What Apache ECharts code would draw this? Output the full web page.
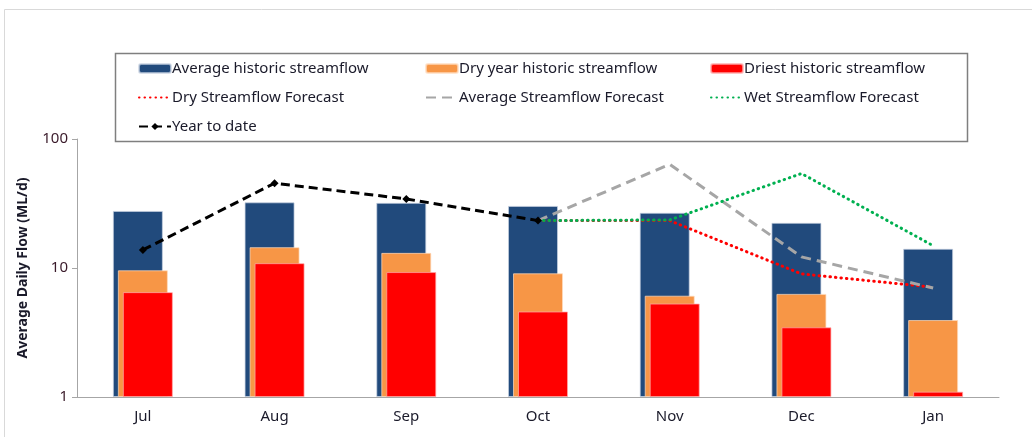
<!DOCTYPE html>
<html>
<head>
<meta charset="utf-8">
<script src="https://cdn.jsdelivr.net/npm/echarts@6/dist/echarts.min.js"></script>
<style>
  html, body { margin: 0; padding: 0; background: #fff; }
  #chart { width: 1032px; height: 437px; }
</style>
</head>
<body>
<div id="chart"></div>
<script>
const months = ['Jul', 'Aug', 'Sep', 'Oct', 'Nov', 'Dec', 'Jan']

// historic streamflow (ML/d)
const avgHistoric = [27.7, 32.3, 32, 30.3, 26.8, 22.4, 14.1]
const dryYearHistoric = [9.6, 14.5, 13.1, 9.1, 6.1, 6.3, 3.95]
const driestHistoric = [6.5, 10.9, 9.3, 4.6, 5.3, 3.47, 1.1]

// forecasts and year to date
const dryForecast = [null, null, null, 23.3, 23.3, 9.0, 7.1]
const avgForecast = [null, null, null, 23.3, 63.7, 12.2, 7.0]
const wetForecast = [null, null, null, 23.3, 23.6, 54, 14.9]
const yearToDate = [13.8, 45.4, 34.3, 23.3, null, null, null]

const font = '"Noto Sans", sans-serif'
const textColor = '#1a1a2a'

const chart = echarts.init(document.getElementById('chart'))

const noSymbol = { opacity: 0 }

const legendBase = {
  orient: 'vertical',
  top: 61,
  padding: 0,
  itemWidth: 32,
  itemHeight: 9,
  itemGap: 14,
  selectedMode: false,
  textStyle: { fontFamily: font, fontSize: 15, color: textColor, padding: [0, 0, 0, -4] }
}

chart.setOption({
  animation: false,
  textStyle: { fontFamily: font },
  graphic: [
    {
      type: 'rect',
      shape: { x: 4.5, y: 9.5, width: 1200, height: 600 },
      style: { fill: 'none', stroke: '#d9d9d9', lineWidth: 1 },
      silent: true
    },
    {
      type: 'rect',
      shape: { x: 115.5, y: 53.5, width: 852, height: 88 },
      style: { fill: 'none', stroke: '#7f7f7f', lineWidth: 1.5 },
      silent: true
    }
  ],
  legend: [
    Object.assign({}, legendBase, {
      left: 138,
      data: [
        'Average historic streamflow',
        { name: 'Dry Streamflow Forecast', itemStyle: noSymbol },
        'Year to date'
      ]
    }),
    Object.assign({}, legendBase, {
      left: 425,
      data: [
        'Dry year historic streamflow',
        { name: 'Average Streamflow Forecast', itemStyle: noSymbol }
      ]
    }),
    Object.assign({}, legendBase, {
      left: 710,
      data: [
        'Driest historic streamflow',
        { name: 'Wet Streamflow Forecast', itemStyle: noSymbol }
      ]
    })
  ],
  grid: { left: 77, right: 33, top: 139, bottom: 40 },
  xAxis: {
    type: 'category',
    data: months,
    axisLine: { lineStyle: { color: '#a6a6a6' } },
    axisTick: { length: 5, lineStyle: { color: '#a6a6a6' } },
    axisLabel: { color: textColor, fontSize: 15, margin: 12, fontFamily: font }
  },
  yAxis: {
    type: 'log',
    logBase: 10,
    min: 1,
    max: 100,
    name: 'Average Daily Flow (ML/d)',
    nameLocation: 'middle',
    nameGap: 47,
    nameTextStyle: { color: textColor, fontWeight: 'bold', fontSize: 14, fontFamily: font },
    axisLine: { show: true, lineStyle: { color: '#a6a6a6' } },
    axisTick: { show: true, length: 5, lineStyle: { color: '#a6a6a6' } },
    axisLabel: { color: '#3a1a2a', fontSize: 15, margin: 9, fontFamily: font },
    splitLine: { show: false },
    minorTick: { show: false }
  },
  series: [
    {
      name: 'Average historic streamflow',
      type: 'bar',
      data: avgHistoric,
      barWidth: 50,
      barGap: '-90%',
      itemStyle: { color: '#214a7c', borderColor: 'rgba(200,210,225,0.7)', borderWidth: 1 }
    },
    {
      name: 'Dry year historic streamflow',
      type: 'bar',
      data: dryYearHistoric,
      barWidth: 50,
      barGap: '-90%',
      itemStyle: { color: '#f79646', borderColor: 'rgba(255,220,190,0.7)', borderWidth: 1 }
    },
    {
      name: 'Driest historic streamflow',
      type: 'bar',
      data: driestHistoric,
      barWidth: 50,
      barGap: '-90%',
      itemStyle: { color: '#ff0000', borderColor: 'rgba(255,170,170,0.7)', borderWidth: 1 }
    },
    {
      name: 'Dry Streamflow Forecast',
      type: 'line',
      data: dryForecast,
      showSymbol: false,
      lineStyle: { color: '#ff0000', width: 3, type: [0.5, 5], cap: 'round' },
      itemStyle: { color: '#ff0000' }
    },
    {
      name: 'Average Streamflow Forecast',
      type: 'line',
      data: avgForecast,
      showSymbol: false,
      lineStyle: { color: '#a6a6a6', width: 3, type: [10, 6] },
      itemStyle: { color: '#a6a6a6' }
    },
    {
      name: 'Wet Streamflow Forecast',
      type: 'line',
      data: wetForecast,
      showSymbol: false,
      lineStyle: { color: '#00b050', width: 3, type: [0.5, 5], cap: 'round' },
      itemStyle: { color: '#00b050' }
    },
    {
      name: 'Year to date',
      type: 'line',
      data: yearToDate,
      symbol: 'diamond',
      symbolSize: 8,
      showSymbol: true,
      lineStyle: { color: '#000', width: 3, type: [9, 5] },
      itemStyle: { color: '#000' }
    }
  ]
})
</script>
</body>
</html>
